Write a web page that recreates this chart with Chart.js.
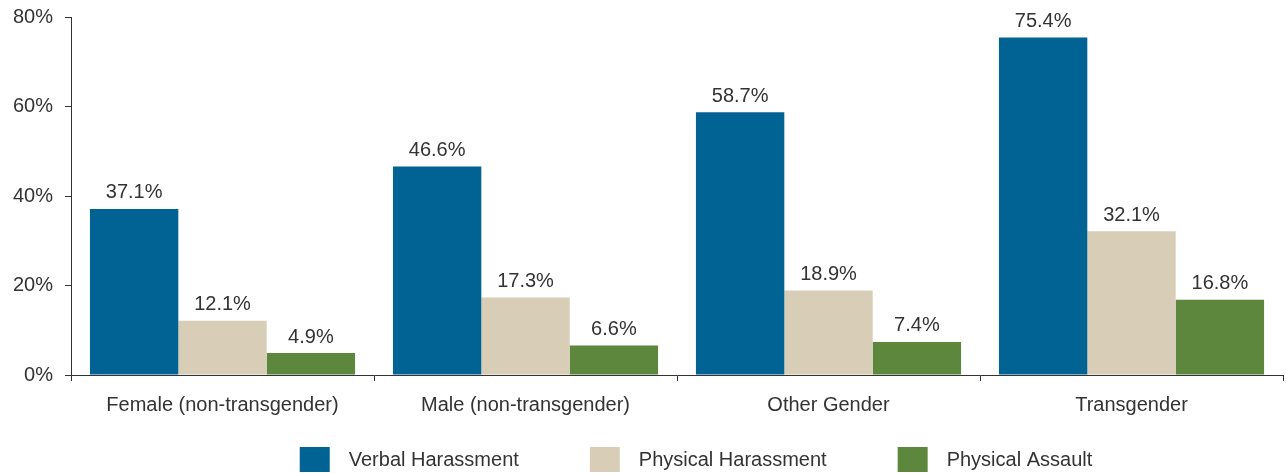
<!DOCTYPE html>
<html>
<head>
<meta charset="utf-8">
<script src="https://cdn.jsdelivr.net/npm/chart.js@4"></script>
<style>
  html, body { margin: 0; padding: 0; background: #ffffff; }
  #wrap { width: 1286px; height: 473px; position: relative; }
</style>
</head>
<body>
<div id="wrap"><canvas id="c" width="1286" height="473"></canvas></div>
<script>
const categories = ["Female (non-transgender)", "Male (non-transgender)", "Other Gender", "Transgender"];
const seriesNames = ["Verbal Harassment", "Physical Harassment", "Physical Assault"];
const verbalHarassment = [37.1, 46.6, 58.7, 75.4];
const physicalHarassment = [12.1, 17.3, 18.9, 32.1];
const physicalAssault = [4.9, 6.6, 7.4, 16.8];
const yTicks = [0, 20, 40, 60, 80];

const colors = ["#006394", "#d8cdb6", "#5c873c"];
const textColor = "#333333";
const fontFamily = "'Liberation Sans', Arial, sans-serif";

const valueLabels = {
  id: 'valueLabels',
  afterDatasetsDraw(chart) {
    const ctx = chart.ctx;
    ctx.save();
    ctx.font = "20px " + fontFamily;
    ctx.fillStyle = textColor;
    ctx.textAlign = 'center';
    ctx.textBaseline = 'bottom';
    chart.data.datasets.forEach((ds, i) => {
      const meta = chart.getDatasetMeta(i);
      meta.data.forEach((bar, j) => {
        ctx.fillText(ds.data[j].toFixed(1) + '%', bar.x, bar.y - 6);
      });
    });
    ctx.restore();
  }
};

const bottomLegend = {
  id: 'bottomLegend',
  afterDraw(chart) {
    const ctx = chart.ctx;
    ctx.save();
    ctx.font = "20px " + fontFamily;
    const boxW = 30, boxH = 25, gapText = 19, gapItem = 71;
    const items = chart.data.datasets.map(ds => ({ text: ds.label, color: ds.backgroundColor, w: ctx.measureText(ds.label).width }));
    let total = 0;
    items.forEach((it, i) => { total += boxW + gapText + it.w + (i < items.length - 1 ? gapItem : 0); });
    const ca = chart.chartArea;
    let x = (ca.left + ca.right) / 2 - total / 2 + 19;
    const top = chart.height - 26;
    ctx.textBaseline = 'middle';
    ctx.textAlign = 'left';
    items.forEach(it => {
      ctx.fillStyle = it.color;
      ctx.fillRect(x, top, boxW, boxH);
      ctx.fillStyle = textColor;
      ctx.fillText(it.text, x + boxW + gapText, top + boxH / 2 + 1);
      x += boxW + gapText + it.w + gapItem;
    });
    ctx.restore();
  }
};

new Chart(document.getElementById('c'), {
  type: 'bar',
  data: {
    labels: categories,
    datasets: [
      { label: seriesNames[0], data: verbalHarassment, backgroundColor: colors[0] },
      { label: seriesNames[1], data: physicalHarassment, backgroundColor: colors[1] },
      { label: seriesNames[2], data: physicalAssault, backgroundColor: colors[2] }
    ]
  },
  options: {
    responsive: false,
    animation: false,
    devicePixelRatio: 1,
    layout: { padding: { top: 17, right: 3, bottom: 50, left: 0 } },
    datasets: { bar: { categoryPercentage: 0.875, barPercentage: 1.0, borderWidth: 0 } },
    plugins: { legend: { display: false }, tooltip: { enabled: false } },
    scales: {
      x: {
        grid: { display: true, drawOnChartArea: false, drawTicks: true, tickLength: 6, color: '#333', offset: true },
        border: { display: true, color: '#333', width: 1 },
        ticks: { color: textColor, font: { family: fontFamily, size: 20 }, padding: 12, maxRotation: 0 },
        afterFit(scale) { scale.height = 48; scale.paddingLeft = 0; scale.paddingRight = 0; }
      },
      y: {
        min: 0, max: 80,
        afterBuildTicks(scale) { scale.ticks = yTicks.map(v => ({ value: v })); },
        grid: { display: true, drawOnChartArea: false, drawTicks: true, tickLength: 6, color: '#333' },
        border: { display: true, color: '#333', width: 1 },
        ticks: { color: textColor, font: { family: fontFamily, size: 20 }, padding: 12, callback: v => v + '%' },
        afterFit(scale) { scale.width = 71; scale.paddingTop = 0; scale.paddingBottom = 0; }
      }
    }
  },
  plugins: [valueLabels, bottomLegend]
});
</script>
</body>
</html>
